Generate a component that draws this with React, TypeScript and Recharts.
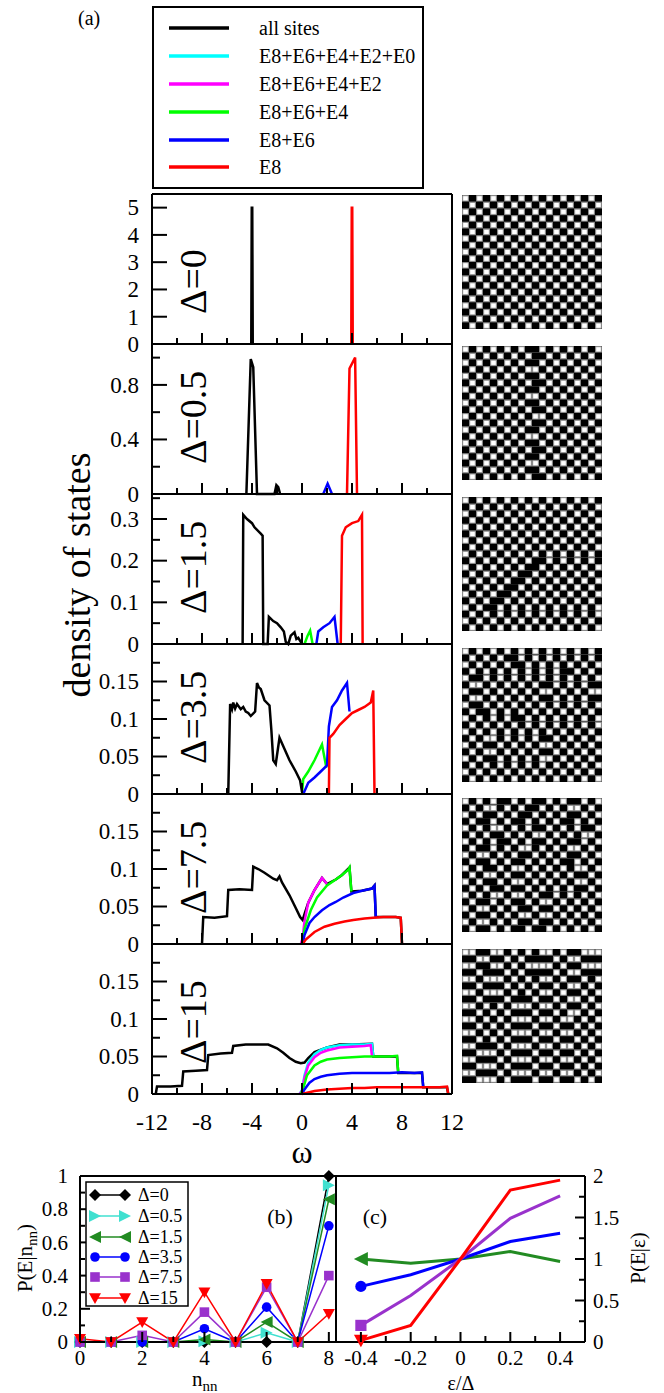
import React from "react";
import { LineChart, Line, XAxis, YAxis, ScatterChart, Scatter } from "recharts";

const FONT = '"Liberation Serif", "Times New Roman", Times, serif';

// ---------- panel (a): density of states ----------
const omegaTicks = [-12, -10, -8, -6, -4, -2, 0, 2, 4, 6, 8, 10, 12];
const omegaMajor = [-12, -8, -4, 0, 4, 8, 12];
const deltaNames = ["Δ=0", "Δ=0.5", "Δ=1.5", "Δ=3.5", "Δ=7.5", "Δ=15"];
const legendNames = ["all sites", "E8+E6+E4+E2+E0", "E8+E6+E4+E2", "E8+E6+E4", "E8+E6", "E8"];
const legendColors = ["#000000", "#00ffff", "#ff00ff", "#00ff00", "#0000ff", "#ff0000"];

const yTop = [5.5, 1.1, 0.36, 0.2, 0.2, 0.2];
const yTicks0 = [0, 1, 2, 3, 4, 5];
const yTicks1 = [0, 0.2, 0.4, 0.6, 0.8, 1.0];
const yTicks2 = [0, 0.05, 0.1, 0.15, 0.2, 0.25, 0.3, 0.35];
const yTicks3 = [0, 0.025, 0.05, 0.075, 0.1, 0.125, 0.15, 0.175];
const yLabels0 = [0, 1, 2, 3, 4, 5];
const yLabels1 = [0, 0.4, 0.8];
const yLabels2 = [0, 0.1, 0.2, 0.3];
const yLabels3 = [0, 0.05, 0.1, 0.15];

type Pt = [number, number];

// Δ=0
const d0Black: Pt[] = [[-4.06, 0], [-4.02, 5.0], [-3.98, 5.0], [-3.94, 0]];
const d0Red: Pt[] = [[3.94, 0], [3.98, 5.0], [4.02, 5.0], [4.06, 0]];
// Δ=0.5
const d1Black: Pt[] = [[-4.45, 0], [-4.1, 0.99], [-3.9, 0.93], [-3.6, 0], [-2.2, 0], [-2.05, 0.065], [-1.9, 0.05], [-1.75, 0]];
const d1Blue: Pt[] = [[1.7, 0], [2.05, 0.075], [2.4, 0]];
const d1Red: Pt[] = [[3.6, 0], [3.8, 0.92], [4.25, 1.0], [4.4, 0]];
// Δ=1.5
const d2Black: Pt[] = [[-4.75, 0], [-4.7, 0.31], [-4.4, 0.3], [-4.0, 0.29], [-3.8, 0.28], [-3.3, 0.265], [-3.15, 0.26], [-3.1, 0], [-2.75, 0], [-2.65, 0.065], [-2.3, 0.055], [-2.0, 0.05], [-1.7, 0.04], [-1.45, 0.03], [-1.3, 0.005], [-1.1, 0], [-0.9, 0.02], [-0.6, 0.028], [-0.45, 0.012], [-0.3, 0.015], [-0.1, 0.005], [0, 0]];
const d2Green: Pt[] = [[0.2, 0], [0.45, 0.02], [0.65, 0.032], [0.85, 0]];
const d2Blue: Pt[] = [[1.15, 0], [1.3, 0.03], [1.7, 0.04], [2.2, 0.05], [2.6, 0.065], [2.85, 0]];
const d2Red: Pt[] = [[3.1, 0], [3.2, 0.26], [3.5, 0.28], [4.0, 0.29], [4.5, 0.295], [4.8, 0.31], [4.85, 0]];
// Δ=3.5
const d3Black: Pt[] = [[-5.9, 0], [-5.75, 0.12], [-5.6, 0.113], [-5.5, 0.122], [-5.35, 0.114], [-5.2, 0.12], [-4.9, 0.113], [-4.7, 0.116], [-4.5, 0.11], [-4.3, 0.108], [-4.1, 0.104], [-3.75, 0.11], [-3.6, 0.148], [-3.45, 0.142], [-3.3, 0.14], [-3.0, 0.125], [-2.6, 0.118], [-2.45, 0.085], [-2.3, 0.045], [-2.1, 0.04], [-1.8, 0.075], [-1.4, 0.06], [-1.0, 0.045], [-0.5, 0.03], [-0.15, 0.018], [0, 0.003]];
const d3Green: Pt[] = [[0, 0], [0.1, 0.02], [0.5, 0.03], [1.0, 0.045], [1.6, 0.066], [1.95, 0.035]];
const d3Blue: Pt[] = [[0.1, 0], [0.5, 0.015], [1.0, 0.022], [1.5, 0.03], [2.0, 0.038], [2.15, 0.09], [2.4, 0.116], [2.8, 0.125], [3.2, 0.138], [3.6, 0.148], [3.8, 0.11]];
const d3Red: Pt[] = [[2.15, 0], [2.2, 0.075], [2.5, 0.08], [3.0, 0.092], [3.5, 0.1], [4.0, 0.108], [4.5, 0.112], [5.0, 0.116], [5.5, 0.122], [5.7, 0.138], [5.8, 0]];
// Δ=7.5
const d4Black: Pt[] = [[-8.0, 0], [-7.9, 0.036], [-7.0, 0.035], [-6.0, 0.037], [-5.9, 0.072], [-5.0, 0.073], [-4.0, 0.072], [-3.9, 0.103], [-3.5, 0.1], [-3.0, 0.095], [-2.3, 0.087], [-2.0, 0.085], [-1.8, 0.09], [-1.6, 0.082], [-1.0, 0.065], [-0.5, 0.048], [-0.15, 0.036], [0.05, 0.032], [0.2, 0.04], [0.5, 0.055], [1.0, 0.072], [1.6, 0.088], [2.0, 0.08], [2.7, 0.086], [3.2, 0.092], [3.8, 0.102], [3.95, 0.07], [4.8, 0.071], [5.6, 0.074], [5.8, 0.078], [5.9, 0.036], [7.5, 0.036], [7.9, 0.035], [8.0, 0]];
const d4Magenta: Pt[] = [[-0.1, 0], [0.05, 0.008], [0.2, 0.03], [0.5, 0.055], [1.0, 0.072], [1.6, 0.088], [2.0, 0.08]];
const d4Green: Pt[] = [[0, 0], [0.2, 0.02], [0.7, 0.045], [1.2, 0.062], [2.0, 0.078], [2.7, 0.086], [3.2, 0.092], [3.7, 0.099], [3.8, 0.102], [3.95, 0.07]];
const d4Blue: Pt[] = [[0.05, 0], [0.2, 0.012], [0.6, 0.028], [1.0, 0.036], [1.6, 0.045], [2.2, 0.052], [2.7, 0.056], [3.3, 0.062], [4.1, 0.068], [4.8, 0.071], [5.6, 0.074], [5.8, 0.078], [5.9, 0.036]];
const d4Red: Pt[] = [[0.05, 0], [0.3, 0.006], [1.0, 0.016], [1.8, 0.023], [2.6, 0.027], [3.4, 0.03], [4.1, 0.032], [5.0, 0.034], [5.7, 0.035], [6.5, 0.036], [7.5, 0.036], [7.9, 0.035], [8.0, 0]];
// Δ=15
const d5Black: Pt[] = [[-11.7, 0], [-11.6, 0.01], [-10.5, 0.01], [-9.6, 0.011], [-9.5, 0.03], [-8.5, 0.031], [-7.6, 0.032], [-7.5, 0.052], [-6.5, 0.054], [-5.6, 0.055], [-5.5, 0.064], [-4.5, 0.066], [-3.5, 0.066], [-2.7, 0.066], [-2.0, 0.061], [-1.5, 0.055], [-1.0, 0.048], [-0.5, 0.043], [-0.1, 0.041], [0.2, 0.042], [0.5, 0.048], [1.0, 0.056], [2.0, 0.062], [3.0, 0.066], [4.0, 0.066], [5.6, 0.067], [5.7, 0.05], [7.6, 0.05], [7.7, 0.028], [9.6, 0.028], [9.7, 0.009], [11.6, 0.009], [11.7, 0]];
const d5Cyan: Pt[] = [[-0.2, 0], [0, 0.005], [0.2, 0.025], [0.5, 0.042], [1.0, 0.053], [1.5, 0.059], [2.0, 0.062], [3.0, 0.065], [4.0, 0.066], [5.0, 0.066], [5.6, 0.067], [5.7, 0.05]];
const d5Magenta: Pt[] = [[-0.2, 0], [0, 0.004], [0.2, 0.022], [0.5, 0.038], [1.0, 0.049], [1.5, 0.055], [2.0, 0.058], [3.0, 0.062], [4.0, 0.063], [5.0, 0.064], [5.5, 0.065], [5.6, 0.05]];
const d5Green: Pt[] = [[-0.1, 0], [0.1, 0.008], [0.4, 0.025], [1.0, 0.038], [1.5, 0.043], [2.0, 0.046], [3.0, 0.048], [4.0, 0.049], [5.0, 0.05], [6.0, 0.05], [7.0, 0.05], [7.6, 0.051], [7.7, 0.028]];
const d5Blue: Pt[] = [[0, 0], [0.2, 0.006], [0.6, 0.015], [1.0, 0.02], [1.5, 0.023], [2.0, 0.025], [3.0, 0.027], [4.0, 0.028], [5.0, 0.028], [6.0, 0.028], [7.0, 0.028], [8.0, 0.029], [9.0, 0.028], [9.6, 0.029], [9.7, 0.009]];
const d5Red: Pt[] = [[0, 0], [0.5, 0.002], [1.0, 0.004], [2.0, 0.006], [3.0, 0.007], [4.0, 0.008], [5.0, 0.008], [6.0, 0.009], [7.0, 0.009], [8.0, 0.009], [9.0, 0.009], [10.0, 0.009], [11.0, 0.009], [11.6, 0.01], [11.7, 0]];

// ---------- panel (b) ----------
const nnn = [0, 1, 2, 3, 4, 5, 6, 7, 8];
const pn0 = [0, 0, 0, 0, 0, 0, 0, 0, 1.0];
const pn05 = [0, 0, 0, 0, 0.005, 0, 0.055, 0, 0.945];
const pn15 = [0, 0, 0, 0, 0.015, 0, 0.12, 0, 0.86];
const pn35 = [0, 0, 0, 0, 0.08, 0, 0.21, 0, 0.7];
const pn75 = [0, 0, 0.04, 0, 0.18, 0, 0.33, 0, 0.4];
const pn150 = [0.02, 0, 0.12, 0, 0.3, 0, 0.35, 0, 0.17];
const bNames = ["Δ=0", "Δ=0.5", "Δ=1.5", "Δ=3.5", "Δ=7.5", "Δ=15"];
const bColors = ["#000000", "#40e0d0", "#228b22", "#0000ff", "#9932cc", "#ff0000"];
const bShapes = ["diamond", "right", "left", "circle", "square", "down"];

// ---------- panel (c) ----------
const epsRatio = [-0.4, -0.2, 0, 0.2, 0.4];
const pe15 = [1.0, 0.95, 1.0, 1.09, 0.97];
const pe35 = [0.67, 0.81, 1.0, 1.21, 1.31];
const pe75 = [0.2, 0.56, 1.0, 1.49, 1.76];
const pe150 = [0.02, 0.2, 1.0, 1.83, 1.95];

// ---------- lattice snapshots (1 = black, 0 = white, 2 = grey) ----------
const board0 = [
  "01010101010101010101", "10101010101010101010", "01010101010101010101", "10101010101010101010",
  "01010101010101010101", "10101010101010101010", "01010101010101010101", "10101010101010101010",
  "01010101010101010101", "10101010101010101010", "01010101010101010101", "10101010101010101010",
  "01010101010101010101", "10101010101010101010", "01010101010101010101", "10101010101010101010",
  "01010101010101010101", "10101010101010101010", "01010101010101010101", "10101010101010101010",
];
const board1 = [
  "01010101011010101010", "10101010101101010101", "01010101011010101010", "10101010100101010101",
  "01010101011010101010", "10101010101101010101", "01010101011010101010", "10101010100101010101",
  "01010101011010101010", "10101010101101010101", "01010101010010101010", "10101010101101010101",
  "01010101011010101010", "10101010100101010101", "01010101011010101010", "10101010101101010101",
  "01010101011010101010", "10101010100101010101", "01010101011010101010", "10101010101101010101",
];
const board2 = [
  "01010101010101010101", "10101010101010101010", "01010101010101010101", "10101010101010101010",
  "01010101010101010101", "10101010101010101010", "01010101010101010101", "10101010101010101010",
  "01010101010101010101", "10101010101101010101", "01010101011010101010", "10101010110101010101",
  "01010101101010101010", "10101011010101010101", "01010110101010101010", "10101101010101010101",
  "01011010101010101010", "10101010101010101010", "01010101010101010101", "10101010101010101010",
];
const board3 = [
  "01010101010101010101", "10101011010101010101", "01010101101010101010", "10101010101010110101",
  "01101010101010101010", "10010101010110101011", "01101010101001010100", "10010101010110101011",
  "01101010101010101010", "10110101010101010101", "01010101101010101010", "10101010101010101010",
  "01010101010101010101", "10100101010110101010", "01011010101001010101", "10100101010110101010",
  "01011010101001010101", "10101010101010101010", "01010101010101010101", "10101010101010101010",
];
const board4 = [
  "01010110101101011010", "10100101011010100101", "01011010110101011010", "10110101101010110101",
  "01010010101101010110", "10101101010010101001", "01010110101101011010", "10110101001010100101",
  "01001010110101011010", "10110101101010110101", "01011010010101010010", "10100101101010101101",
  "01011010010101010010", "10101101101010101101", "01010010010110101010", "10110101101001010101",
  "01001010110110101010", "10110101001001010101", "01001010110110101010", "10110101101101010101",
];
const board5 = [
  "00110010101001011000", "11001101011110100111", "00110010100001011000", "11011101011110100111",
  "00100010101001011010", "11011101010110100101", "00100010101001011010", "11011101110110100101",
  "00101010001001011010", "11010101110110100101", "00101010001001001010", "11010101110110110101",
  "00101010001001001010", "11010101110110110101", "00111010001001001010", "11000101110110110101",
  "00111010001001001010", "11000101110110110101", "00111010001001001010", "11000101110110110101",
];

// ---------- geometry ----------
const W = 664;
const PL = 152;
const PR = 452;
const PTOP = 194;
const PH = 150;
const boardTops = [195, 346, 497, 648, 798, 949];
const BOARD_X = 462;
const BOARD_W = 140;
const BOARD_H = 134;

const fmt = (v: number) => String(v);

type Side = "bottom" | "top" | "left" | "right";

function makeTick(side: Side, majors: number[], labels: number[] | null, o: { major: number; minor: number; off: number; fs: number }) {
  return (props: any) => {
    const { x, y, payload } = props;
    const v = payload.value;
    const len = majors.includes(v) ? o.major : o.minor;
    const show = labels && labels.includes(v);
    let x2 = x;
    let y2 = y;
    let label: React.ReactNode = null;
    if (side === "bottom") {
      y2 = y - len;
      if (show) label = <text x={x} y={y + o.off} textAnchor="middle" fontFamily={FONT} fontSize={o.fs} fill="#000">{fmt(v)}</text>;
    } else if (side === "top") {
      y2 = y + len;
    } else if (side === "left") {
      x2 = x + len;
      if (show) label = <text x={x - o.off} y={y + o.fs * 0.34} textAnchor="end" fontFamily={FONT} fontSize={o.fs} fill="#000">{fmt(v)}</text>;
    } else {
      x2 = x - len;
      if (show) label = <text x={x + o.off} y={y + o.fs * 0.34} textAnchor="start" fontFamily={FONT} fontSize={o.fs} fill="#000">{fmt(v)}</text>;
    }
    return (
      <g>
        <line x1={x} y1={y} x2={x2} y2={y2} stroke="#000" strokeWidth={2} />
        {label}
      </g>
    );
  };
}

const axisLine = { stroke: "#000", strokeWidth: 2 };
const toRows = (pts: Pt[]) => pts.map(([x, y]) => ({ x, y }));

const panels = [
  { ticks: yTicks0, labels: yLabels0, series: [[d0Black, "#000000"], [d0Red, "#ff0000"]] },
  { ticks: yTicks1, labels: yLabels1, series: [[d1Black, "#000000"], [d1Blue, "#0000ff"], [d1Red, "#ff0000"]] },
  { ticks: yTicks2, labels: yLabels2, series: [[d2Black, "#000000"], [d2Green, "#00ff00"], [d2Blue, "#0000ff"], [d2Red, "#ff0000"]] },
  { ticks: yTicks3, labels: yLabels3, series: [[d3Black, "#000000"], [d3Green, "#00ff00"], [d3Blue, "#0000ff"], [d3Red, "#ff0000"]] },
  { ticks: yTicks3, labels: yLabels3, series: [[d4Black, "#000000"], [d4Magenta, "#ff00ff"], [d4Green, "#00ff00"], [d4Blue, "#0000ff"], [d4Red, "#ff0000"]] },
  { ticks: yTicks3, labels: yLabels3, series: [[d5Black, "#000000"], [d5Cyan, "#00ffff"], [d5Magenta, "#ff00ff"], [d5Green, "#00ff00"], [d5Blue, "#0000ff"], [d5Red, "#ff0000"]] },
];

function DosPanel({ idx }: { idx: number }) {
  const p = panels[idx];
  const last = idx === panels.length - 1;
  const mt = 20;
  const mb = last ? 60 : 20;
  const top = PTOP + idx * PH;
  const tickOpt = { major: 11, minor: 6, off: 36, fs: 24 };
  const yOpt = { major: 15, minor: 8, off: 13, fs: 23 };
  return (
    <div style={{ position: "absolute", left: 0, top: top - mt }}>
      <LineChart width={W} height={PH + mt + mb} margin={{ top: mt - 10, bottom: mb - 10, left: PL - 10, right: W - PR - 10 }}>
        <XAxis xAxisId="b" type="number" dataKey="x" domain={[-12, 12]} ticks={omegaTicks} interval={0} height={10}
          tickSize={0} tickMargin={0} tickLine={false} axisLine={axisLine}
          tick={makeTick("bottom", omegaMajor, last ? omegaMajor : null, tickOpt)} />
        <XAxis xAxisId="t" orientation="top" type="number" dataKey="x" domain={[-12, 12]} ticks={omegaTicks} interval={0} height={10}
          tickSize={0} tickMargin={0} tickLine={false} axisLine={axisLine}
          tick={makeTick("top", omegaMajor, null, tickOpt)} />
        <YAxis yAxisId="l" type="number" domain={[0, yTop[idx]]} ticks={p.ticks} interval={0} width={10}
          tickSize={0} tickMargin={0} tickLine={false} axisLine={axisLine}
          tick={makeTick("left", p.labels, p.labels, yOpt)} />
        <YAxis yAxisId="r" orientation="right" type="number" domain={[0, yTop[idx]]} ticks={p.ticks} interval={0} width={10}
          tickSize={0} tickMargin={0} tickLine={false} axisLine={axisLine}
          tick={makeTick("right", p.labels, null, yOpt)} />
        {p.series.map(([pts, color], i) => (
          <Line key={i} xAxisId="b" yAxisId="l" data={toRows(pts as Pt[])} dataKey="y" type="linear"
            stroke={color as string} strokeWidth={2.5} dot={false} isAnimationActive={false} />
        ))}
      </LineChart>
    </div>
  );
}

function MarkerShape({ cx, cy, shape, color, s = 6 }: { cx: number; cy: number; shape: string; color: string; s?: number }) {
  if (cx == null || cy == null) return <g />;
  switch (shape) {
    case "diamond":
      return <polygon points={`${cx},${cy - s} ${cx + s},${cy} ${cx},${cy + s} ${cx - s},${cy}`} fill={color} />;
    case "right":
      return <polygon points={`${cx - s},${cy - s} ${cx + s},${cy} ${cx - s},${cy + s}`} fill={color} />;
    case "left":
      return <polygon points={`${cx + s},${cy - s} ${cx - s},${cy} ${cx + s},${cy + s}`} fill={color} />;
    case "circle":
      return <circle cx={cx} cy={cy} r={s * 0.8} fill={color} />;
    case "square":
      return <rect x={cx - s * 0.8} y={cy - s * 0.8} width={s * 1.6} height={s * 1.6} fill={color} />;
    default:
      return <polygon points={`${cx - s},${cy - s * 0.8} ${cx + s},${cy - s * 0.8} ${cx},${cy + s}`} fill={color} />;
  }
}

const bSeries = [pn0, pn05, pn15, pn35, pn75, pn150];
const bXTicks = [0, 1, 2, 3, 4, 5, 6, 7, 8];
const bXLabels = [0, 2, 4, 6, 8];
const bYTicks = [0, 0.1, 0.2, 0.3, 0.4, 0.5, 0.6, 0.7, 0.8, 0.9, 1];
const bYLabels = [0, 0.2, 0.4, 0.6, 0.8, 1];

const cSeries = [pe15, pe35, pe75, pe150];
const cColors = ["#228b22", "#0000ff", "#9932cc", "#ff0000"];
const cShapes = ["left", "circle", "square", "down"];
const cXTicks = [-0.4, -0.3, -0.2, -0.1, 0, 0.1, 0.2, 0.3, 0.4];
const cXLabels = [-0.4, -0.2, 0, 0.2, 0.4];
const cYTicks = [0, 0.25, 0.5, 0.75, 1, 1.25, 1.5, 1.75, 2];
const cYLabels = [0, 0.5, 1, 1.5, 2];

const B_TOP = 1176;
const B_H = 166;

function PanelB() {
  const o = { major: 10, minor: 5, off: 23, fs: 21 };
  const oy = { major: 10, minor: 5, off: 12, fs: 21 };
  return (
    <div style={{ position: "absolute", left: 0, top: B_TOP - 20 }}>
      <LineChart width={350} height={B_H + 60} margin={{ top: 10, bottom: 30, left: 70, right: 350 - 336 }}>
        <XAxis xAxisId="b" type="number" dataKey="x" domain={[0, 8.23]} ticks={bXTicks} interval={0} height={10}
          tickSize={0} tickMargin={0} tickLine={false} axisLine={axisLine} tick={makeTick("bottom", bXLabels, bXLabels, o)} />
        <XAxis xAxisId="t" orientation="top" type="number" dataKey="x" domain={[0, 8.23]} ticks={bXTicks} interval={0} height={10}
          tickSize={0} tickMargin={0} tickLine={false} axisLine={axisLine} tick={makeTick("top", bXLabels, null, o)} />
        <YAxis yAxisId="l" type="number" domain={[0, 1]} ticks={bYTicks} interval={0} width={10}
          tickSize={0} tickMargin={0} tickLine={false} axisLine={axisLine} tick={makeTick("left", bYLabels, bYLabels, oy)} />
        {bSeries.map((vals, i) => (
          <Line key={i} xAxisId="b" yAxisId="l" data={nnn.map((n, k) => ({ x: n, y: vals[k] }))} dataKey="y" type="linear"
            stroke={bColors[i]} strokeWidth={1.5} isAnimationActive={false}
            dot={(pp: any) => <MarkerShape key={pp.index} cx={pp.cx} cy={pp.cy} shape={bShapes[i]} color={bColors[i]} />} />
        ))}
      </LineChart>
    </div>
  );
}

function PanelC() {
  const o = { major: 10, minor: 6, off: 23, fs: 21 };
  const oy = { major: 10, minor: 6, off: 8, fs: 21 };
  const left = 300;
  return (
    <div style={{ position: "absolute", left, top: B_TOP - 20 }}>
      <LineChart width={W - left} height={B_H + 60} margin={{ top: 10, bottom: 30, left: 336 - left - 10, right: W - 585 - 10 }}>
        <XAxis xAxisId="b" type="number" dataKey="x" domain={[-0.5, 0.5]} ticks={cXTicks} interval={0} height={10}
          tickSize={0} tickMargin={0} tickLine={false} axisLine={axisLine} tick={makeTick("bottom", cXLabels, cXLabels, o)} />
        <XAxis xAxisId="t" orientation="top" type="number" dataKey="x" domain={[-0.5, 0.5]} ticks={cXTicks} interval={0} height={10}
          tickSize={0} tickMargin={0} tickLine={false} axisLine={axisLine} tick={makeTick("top", cXLabels, null, o)} />
        <YAxis yAxisId="l" type="number" domain={[0, 2]} ticks={cYTicks} interval={0} width={10}
          tickSize={0} tickMargin={0} tickLine={false} axisLine={axisLine} tick={makeTick("left", cYLabels, null, oy)} />
        <YAxis yAxisId="r" orientation="right" type="number" domain={[0, 2]} ticks={cYTicks} interval={0} width={10}
          tickSize={0} tickMargin={0} tickLine={false} axisLine={axisLine} tick={makeTick("right", cYLabels, cYLabels, oy)} />
        {cSeries.map((vals, i) => (
          <Line key={i} xAxisId="b" yAxisId="r" data={epsRatio.map((e, k) => ({ x: e, y: vals[k] }))} dataKey="y" type="linear"
            stroke={cColors[i]} strokeWidth={3} isAnimationActive={false}
            dot={(pp: any) => pp.index === 0
              ? <MarkerShape key={pp.index} cx={pp.cx} cy={pp.cy} shape={cShapes[i]} color={cColors[i]} s={7} />
              : <g key={pp.index} />} />
        ))}
      </LineChart>
    </div>
  );
}

function Board({ rows, top }: { rows: string[]; top: number }) {
  const nr = rows.length;
  const nc = rows[0].length;
  const cw = BOARD_W / nc;
  const ch = BOARD_H / nr;
  const data: { c: number; r: number; v: string }[] = [];
  rows.forEach((row, r) => row.split("").forEach((v, c) => data.push({ c: c + 0.5, r: r + 0.5, v })));
  const cell = (p: any) => {
    const { cx, cy, payload } = p;
    const x = cx - cw / 2;
    const y = cy - ch / 2;
    if (payload.v === "1") return <rect x={x} y={y} width={cw} height={ch} fill="#000" />;
    return (
      <g>
        <rect x={x} y={y} width={cw} height={ch} fill="#000" />
        <rect x={x + 0.7} y={y + 0.7} width={cw - 1.4} height={ch - 1.4} fill={payload.v === "2" ? "#777" : "#fff"} stroke="#999" strokeWidth={1} />
      </g>
    );
  };
  return (
    <div style={{ position: "absolute", left: BOARD_X, top }}>
      <ScatterChart width={BOARD_W} height={BOARD_H} margin={{ top: 0, right: 0, bottom: 0, left: 0 }}>
        <XAxis type="number" dataKey="c" domain={[0, nc]} hide />
        <YAxis type="number" dataKey="r" domain={[0, nr]} reversed hide />
        <Scatter data={data} shape={cell} isAnimationActive={false} />
      </ScatterChart>
    </div>
  );
}

const boards = [board0, board1, board2, board3, board4, board5];

function Overlay() {
  const legendY = [28, 56, 84, 112, 140, 167];
  const bLegY = [1195, 1216, 1237, 1257, 1277, 1298];
  return (
    <svg width={W} height={1393} style={{ position: "absolute", left: 0, top: 0, pointerEvents: "none" }}>
      <text x={78} y={25} fontFamily={FONT} fontSize={20}>(a)</text>
      <rect x={153} y={7} width={270} height={181} fill="none" stroke="#000" strokeWidth={2} />
      {legendNames.map((n, i) => (
        <g key={n}>
          <line x1={169} x2={229} y1={legendY[i]} y2={legendY[i]} stroke={legendColors[i]} strokeWidth={3.5} />
          <text x={259} y={legendY[i] + 7} fontFamily={FONT} fontSize={20}>{n}</text>
        </g>
      ))}
      {deltaNames.map((d, i) => (
        <text key={d} transform={`translate(206,${PTOP + (i + 1) * PH - 30}) rotate(-90)`} fontFamily={FONT} fontSize={38}>{d}</text>
      ))}
      <text transform="translate(90,575) rotate(-90)" textAnchor="middle" fontFamily={FONT} fontSize={38}>density of states</text>
      <text x={302} y={1163} textAnchor="middle" fontFamily={FONT} fontSize={32}>ω</text>

      <rect x={86} y={1182} width={102} height={124} fill="#fff" stroke="#000" strokeWidth={1.5} />
      {bNames.map((n, i) => (
        <g key={n}>
          <line x1={95} x2={125} y1={bLegY[i]} y2={bLegY[i]} stroke={bColors[i]} strokeWidth={1.5} />
          <MarkerShape cx={95} cy={bLegY[i]} shape={bShapes[i]} color={bColors[i]} />
          <MarkerShape cx={125} cy={bLegY[i]} shape={bShapes[i]} color={bColors[i]} />
          <text x={138} y={bLegY[i] + 6} fontFamily={FONT} fontSize={18}>{n}</text>
        </g>
      ))}
      <text x={280} y={1224} textAnchor="middle" fontFamily={FONT} fontSize={22}>(b)</text>
      <text x={375} y={1224} textAnchor="middle" fontFamily={FONT} fontSize={22}>(c)</text>
      <text transform="translate(32,1258) rotate(-90)" textAnchor="middle" fontFamily={FONT} fontSize={21}>
        P(E|n<tspan dy={5} fontSize={15}>nn</tspan><tspan dy={-5}>)</tspan>
      </text>
      <text x={192} y={1386} fontFamily={FONT} fontSize={21}>
        n<tspan dy={5} fontSize={15}>nn</tspan>
      </text>
      <text x={461} y={1390} textAnchor="middle" fontFamily={FONT} fontSize={20}>ε/Δ</text>
      <text transform="translate(645,1258) rotate(-90)" textAnchor="middle" fontFamily={FONT} fontSize={21}>P(E|ε)</text>
    </svg>
  );
}

export default function App() {
  return (
    <div style={{ position: "absolute", left: 0, top: 0, width: W, height: 1393, background: "#fff", overflow: "hidden" }}>
      {panels.map((_, i) => <DosPanel key={i} idx={i} />)}
      {boards.map((b, i) => <Board key={i} rows={b} top={boardTops[i]} />)}
      <PanelB />
      <PanelC />
      <Overlay />
    </div>
  );
}
